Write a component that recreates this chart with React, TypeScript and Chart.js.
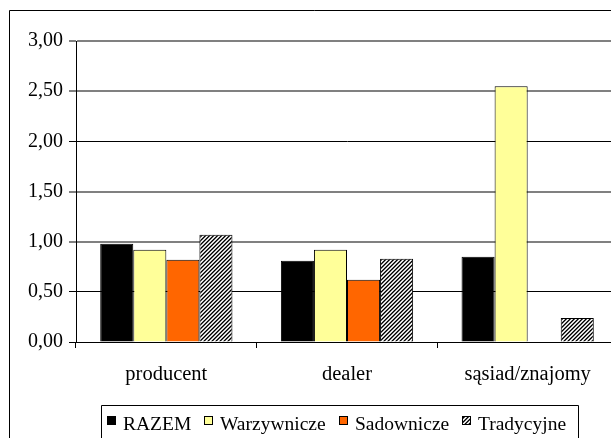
import React, { useEffect, useRef } from 'react';
import { Chart, registerables } from 'chart.js';

Chart.register(...registerables);

const categories = ['producent', 'dealer', 'sąsiad/znajomy'];
const seriesNames = ['RAZEM', 'Warzywnicze', 'Sadownicze', 'Tradycyjne'];
const razem = [0.98, 0.81, 0.85];
const warzywnicze = [0.92, 0.92, 2.55];
const sadownicze = [0.82, 0.62, null];
const tradycyjne = [1.07, 0.83, 0.24];
const yMin = 0;
const yMax = 3;
const yStep = 0.5;

const FONT = '"Liberation Serif", "Times New Roman", serif';

function makeHatch(): CanvasPattern | string {
  const c = document.createElement('canvas');
  c.width = 4;
  c.height = 4;
  const x = c.getContext('2d');
  if (!x) return '#888';
  const img = x.createImageData(4, 4);
  const shades = [0, 90, 255, 190];
  for (let yy = 0; yy < 4; yy++) {
    for (let xx = 0; xx < 4; xx++) {
      const i = (yy * 4 + xx) * 4;
      const v = shades[(xx + yy) % 4];
      img.data[i] = v;
      img.data[i + 1] = v;
      img.data[i + 2] = v;
      img.data[i + 3] = 255;
    }
  }
  x.putImageData(img, 0, 0);
  const p = x.createPattern(c, 'repeat');
  return p || '#888';
}

export default function App() {
  const ref = useRef<HTMLCanvasElement | null>(null);

  useEffect(() => {
    const canvas = ref.current;
    if (!canvas) return;
    const hatch = makeHatch();
    const fills: any[] = ['#000000', '#FFFF99', '#FF6600', hatch];
    const values = [razem, warzywnicze, sadownicze, tradycyjne];

    const framePlugin = {
      id: 'frameAndLegend',
      afterDraw(chart: any) {
        const ctx = chart.ctx as CanvasRenderingContext2D;
        ctx.save();
        ctx.strokeStyle = '#000';
        ctx.lineWidth = 1;
        ctx.beginPath();
        ctx.moveTo(1.5, 440);
        ctx.lineTo(1.5, 2.5);
        ctx.lineTo(640, 2.5);
        ctx.stroke();

        const boxL = 93.5;
        const boxR = 570.5;
        const boxT = 397.5;
        ctx.beginPath();
        ctx.moveTo(boxL, 440);
        ctx.lineTo(boxL, boxT);
        ctx.lineTo(boxR, boxT);
        ctx.lineTo(boxR, 440);
        ctx.stroke();

        ctx.font = '19.5px ' + FONT;
        ctx.textBaseline = 'alphabetic';
        ctx.textAlign = 'left';
        const marker = 9;
        const gapText = 7;
        const gapItem = 13;
        const widths = seriesNames.map((n) => ctx.measureText(n).width);
        let x = 99;
        const mTop = 408;
        const baseline = 421.5;
        seriesNames.forEach((n, i) => {
          ctx.fillStyle = fills[i];
          ctx.fillRect(x, mTop, marker, marker);
          ctx.strokeStyle = '#000';
          ctx.strokeRect(x + 0.5, mTop + 0.5, marker - 1, marker - 1);
          ctx.fillStyle = '#000';
          ctx.fillText(n, x + marker + gapText, baseline);
          x = Math.round(x + marker + gapText + widths[i] + gapItem);
        });
        ctx.restore();
      },
    };

    const isBlack = (v: number) => v === 0 || v === 0.5 || v === 2;

    const chart = new Chart(canvas, {
      type: 'bar',
      data: {
        labels: categories,
        datasets: seriesNames.map((name, i) => ({
          label: name,
          data: values[i] as any,
          backgroundColor: fills[i],
          borderColor: '#000',
          borderWidth: 1,
          categoryPercentage: 0.732,
          barPercentage: 1,
        })),
      },
      options: {
        animation: false,
        responsive: false,
        maintainAspectRatio: false,
        layout: { padding: { top: 33, bottom: 51, left: 0, right: 0 } },
        plugins: {
          legend: { display: false },
          tooltip: { enabled: false },
          title: { display: false },
        },
        scales: {
          x: {
            offset: true,
            grid: {
              display: true,
              offset: true,
              drawOnChartArea: false,
              drawTicks: true,
              tickLength: 6,
              color: '#000',
              lineWidth: 1,
            },
            border: { display: true, color: '#000', width: 1 },
            ticks: {
              color: '#000',
              font: { family: FONT, size: 20.5 },
              padding: 14,
              maxRotation: 0,
              autoSkip: false,
            },
            afterFit(scale: any) {
              scale.height = 45;
            },
          },
          y: {
            min: yMin,
            max: yMax,
            grid: {
              color: (c: any) => (isBlack(c.tick?.value) ? '#000' : '#808080'),
              lineWidth: (c: any) => (isBlack(c.tick?.value) ? 1 : 2),
              tickLength: 7,
              drawTicks: true,
            },
            border: { display: true, color: '#000', width: 1 },
            ticks: {
              stepSize: yStep,
              color: '#000',
              font: { family: FONT, size: 20 },
              padding: 6,
              callback: (v: any) => Number(v).toFixed(2).replace('.', ','),
            },
            afterFit(scale: any) {
              scale.width = 68;
            },
          },
        },
      },
      plugins: [framePlugin],
    });

    return () => {
      chart.destroy();
    };
  }, []);

  return (
    <div
      style={{
        position: 'fixed',
        left: 8,
        top: 8,
        width: 603,
        height: 430,
        overflow: 'hidden',
        background: '#fff',
      }}
    >
      <canvas ref={ref} width={610} height={430} style={{ display: 'block', width: 610, height: 430 }} />
    </div>
  );
}
